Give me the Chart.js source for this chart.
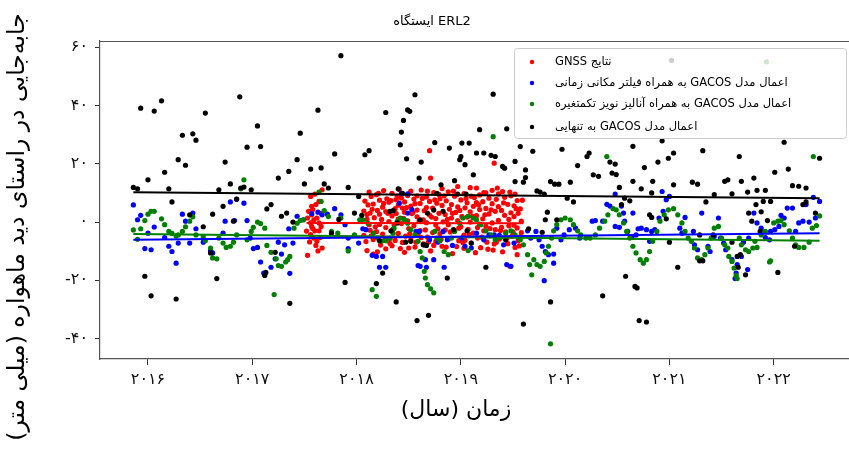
<!DOCTYPE html>
<html>
<head>
<meta charset="utf-8">
<script src="https://cdn.jsdelivr.net/npm/chart.js@4/dist/chart.umd.min.js"></script>
<style>
  html, body { margin: 0; padding: 0; overflow: hidden; background: #fff; }
</style>
</head>
<body>
<canvas id="myChart" width="860" height="455"></canvas>
<script>
// tick labels
let yearTicks = [2016, 2017, 2018, 2019, 2020, 2021, 2022];
let mmTicks = [-40, -20, 0, 20, 40, 60];

let chartTitle = 'ایستگاه ERL2';
let xTitle = 'زمان (سال)';
let yTitle = 'جابه‌جایی در راستای دید ماهواره (میلی متر)';
let labels = [
  'نتایج GNSS',
  'اعمال مدل GACOS به همراه فیلتر مکانی زمانی',
  'اعمال مدل GACOS به همراه آنالیز نویز تکمتغیره',
  'اعمال مدل GACOS به تنهایی'
];

// [year, mm]
let gnssPts = [
  [2017.56,8.8],[2017.57,5.4],[2017.58,4.3],[2017.61,6.0],[2017.64,7.1],[2017.67,11.1],[2017.53,1.4],[2017.56,-0.3],
  [2017.57,-1.5],[2017.59,0.8],[2017.62,1.4],[2017.64,-0.3],[2017.66,-1.5],[2017.52,-3.1],[2017.56,-4.3],[2017.59,-5.5],
  [2017.62,-6.6],[2017.65,-5.3],[2017.67,-8.9],[2017.53,-11.4],[2017.61,-8.0],[2017.64,-3.0],[2017.60,-3.0],[2017.57,2.5],
  [2017.54,3.7],[2017.55,-6.8],[2017.60,9.6],[2017.63,-9.9],[2017.58,-2.2],[2017.66,3.0],
  [2018.07,3.8],[2018.07,-4.6],[2018.08,7.2],[2018.10,0.9],[2018.10,-9.8],[2018.11,5.9],[2018.12,10.3],
  [2018.13,-2.8],[2018.13,3.1],[2018.14,8.8],[2018.16,6.2],[2018.16,-6.0],[2018.17,1.5],[2018.16,-11.0],
  [2018.19,9.4],[2018.19,-3.3],[2018.20,4.0],[2018.22,-0.8],[2018.22,7.5],[2018.23,-7.9],[2018.22,2.7],
  [2018.25,5.1],[2018.25,-4.1],[2018.26,10.8],[2018.28,-1.9],[2018.28,3.6],[2018.29,8.0],[2018.28,-9.2],
  [2018.31,6.8],[2018.31,0.2],[2018.32,-5.6],[2018.34,9.9],[2018.34,2.1],[2018.35,-2.4],[2018.34,-8.1],
  [2018.37,4.6],[2018.37,-6.3],[2018.38,7.7],[2018.40,1.0],[2018.40,-3.9],[2018.41,11.2],[2018.40,5.8],
  [2018.43,8.3],[2018.43,-0.5],[2018.44,-7.0],[2018.46,3.4],[2018.46,6.9],[2018.47,-4.8],[2018.46,-10.4],
  [2018.49,0.4],[2018.49,9.1],[2018.50,-2.2],[2018.52,5.5],[2018.52,-6.1],[2018.53,2.9],[2018.52,10.6],
  [2018.55,-1.3],[2018.55,7.9],[2018.56,-8.6],[2018.58,4.1],[2018.58,1.8],[2018.59,-4.3],[2018.58,9.0],
  [2018.61,6.4],[2018.61,-2.9],[2018.62,11.0],[2018.64,0.8],[2018.64,-7.5],[2018.65,3.9],
  [2018.67,8.6],[2018.67,-0.2],[2018.68,-5.2],[2018.67,5.0],[2018.70,24.5],[2018.70,2.4],[2018.71,-9.9],[2018.70,7.1],
  [2018.71,15.1],[2018.73,-3.6],[2018.73,4.8],[2018.74,10.1],[2018.76,1.2],[2018.76,-6.6],[2018.77,6.5],[2018.76,-1.0],
  [2018.79,9.5],[2018.79,3.0],[2018.80,-4.0],[2018.82,-8.3],[2018.82,5.7],[2018.83,0.1],[2018.82,11.5],
  [2018.85,2.6],[2018.85,-2.7],[2018.86,7.3],[2018.88,10.4],[2018.88,-5.9],[2018.89,4.4],[2018.88,-0.9],
  [2018.91,6.0],[2018.91,1.4],[2018.92,-10.8],[2018.94,-3.1],[2018.94,8.9],[2018.95,3.3],
  [2018.97,0.5],[2018.97,12.2],[2018.98,-6.4],[2018.97,5.2],[2019.00,7.6],[2019.00,-1.6],[2019.01,2.0],
  [2019.03,-4.5],[2019.03,9.8],[2019.04,4.9],[2019.03,-9.0],[2019.06,1.7],[2019.06,6.6],[2019.07,-2.5],
  [2019.09,11.8],[2019.09,3.5],[2019.10,-7.2],[2019.09,0.0],[2019.12,5.4],[2019.12,-3.8],[2019.13,8.4],
  [2019.15,11.7],[2019.15,2.2],[2019.16,-5.5],[2019.15,6.7],[2019.18,-0.7],[2019.18,9.3],[2019.19,-8.8],[2019.18,4.3],
  [2019.21,7.0],[2019.21,1.1],[2019.22,-3.0],[2019.24,10.0],[2019.24,4.7],[2019.25,-6.9],[2019.24,-1.4],
  [2019.27,2.8],[2019.27,8.2],[2019.28,-4.7],[2019.30,6.3],[2019.30,-0.3],[2019.31,-9.6],[2019.30,10.9],
  [2019.32,20.2],[2019.33,3.7],[2019.33,-2.6],[2019.34,7.8],[2019.36,0.6],[2019.36,9.7],[2019.37,-5.8],[2019.36,5.3],
  [2019.39,4.0],[2019.39,-1.8],[2019.40,-10.2],[2019.42,8.5],[2019.42,2.3],[2019.43,-3.4],
  [2019.45,6.1],[2019.45,-7.4],[2019.46,0.9],[2019.47,-15.2],[2019.48,3.2],[2019.48,9.0],[2019.49,-4.9],
  [2019.51,-1.1],[2019.51,5.6],[2019.52,-8.7],[2019.51,1.9],[2019.54,7.4],[2019.54,-2.0],[2019.54,-11.2],[2019.55,3.0],
  [2019.57,4.5],[2019.57,-5.0],[2019.58,0.3],
  [2018.09,-6.7],[2018.12,-0.9],[2018.15,4.4],[2018.18,-1.6],[2018.21,9.9],[2018.24,0.9],[2018.27,-6.2],[2018.30,3.0],
  [2018.33,7.4],[2018.36,-0.9],[2018.39,8.9],[2018.42,-9.1],[2018.45,1.3],[2018.48,5.0],[2018.51,-4.0],[2018.54,3.3],
  [2018.57,-6.9],[2018.60,0.3],[2018.63,8.1],[2018.66,-2.7],[2018.69,-6.8],[2018.72,1.7],[2018.75,7.6],[2018.78,-2.3],
  [2018.81,-6.0],[2018.84,9.0],[2018.87,0.9],[2018.90,-3.4],[2018.93,10.6],[2018.96,-8.4],[2018.99,4.0],[2019.02,-7.1],
  [2019.05,8.1],[2019.08,-4.2],[2019.11,2.0],[2019.14,-10.5],[2019.17,5.9],[2019.20,-5.2],[2019.23,2.5],[2019.26,-9.3],
  [2019.29,4.2],[2019.32,-7.5],[2019.35,11.7],[2019.38,-2.9],[2019.41,6.6],[2019.44,-5.6],[2019.47,10.3],[2019.50,-3.4],
  [2019.53,4.6],[2019.56,-8.2],[2019.59,7.5],[2019.58,-3.6],
  [2018.10,2.6],[2018.14,-4.8],[2018.20,-10.2],[2018.26,6.4],[2018.32,-7.3],[2018.38,2.9],[2018.44,4.8],[2018.50,-8.9],
  [2018.56,6.3],[2018.62,-5.3],[2018.68,10.6],[2018.74,-8.0],[2018.80,8.0],[2018.86,-8.6],[2018.92,3.0],[2018.98,-2.1],
  [2019.04,-6.2],[2019.10,8.9],[2019.16,-1.9],[2019.22,10.1],[2019.28,-2.2],[2019.34,-6.9],[2019.40,10.5],[2019.46,-1.3],
  [2019.52,9.6],[2019.55,-6.4]
];

let filterPts = [
  [2015.86,5.9],[2015.90,0.8],[2015.93,2.3],[2016.00,-3.8],[2016.06,-1.7],[2015.97,-9.1],[2016.03,-9.5],[2016.16,-5.3],
  [2016.20,-8.3],[2016.23,-10.1],[2016.27,-14.1],[2016.29,-7.2],[2016.33,2.7],[2016.36,0.3],[2016.40,-7.2],[2016.43,3.1],
  [2016.46,-2.3],[2016.53,-6.9],[2016.60,-9.8],[2016.62,-10.6],[2016.72,-3.8],[2016.74,0.3],
  [2016.79,6.9],[2016.83,0.5],[2016.85,7.8],[2016.92,6.5],[2016.95,0.5],[2016.98,-5.5],[2017.01,-9.1],[2017.05,-8.7],
  [2017.08,-13.7],[2017.11,-17.5],[2017.18,-15.5],[2017.22,-12.6],[2017.28,-11.0],[2017.25,-6.9],[2017.31,-7.8],
  [2017.36,-17.6],[2017.39,-7.2],[2017.35,-2.3],[2017.43,2.0],[2017.49,0.8],[2017.57,2.9],[2017.63,3.4],[2017.67,2.5],
  [2017.72,2.7],[2017.79,4.6],[2017.85,2.5],[2017.89,-0.9],[2017.92,-9.1],
  [2017.92,-5.5],[2018.02,-7.2],[2018.06,-2.3],[2018.09,-2.6],[2018.15,-11.4],[2018.19,-11.8],[2018.25,-11.8],
  [2018.22,-15.5],[2018.28,-15.5],[2018.41,6.5],[2018.43,9.9],[2018.49,9.7],[2018.49,3.1],[2018.53,4.3],[2018.57,-3.2],
  [2018.60,-3.2],[2018.59,-14.9],[2018.61,-15.2],[2018.67,-15.5],[2018.66,-12.9],[2018.74,-12.9],[2018.65,-7.8],
  [2018.70,-6.1],[2018.78,-6.9],[2018.83,-3.2],[2018.84,-15.5],[2018.87,-6.1],[2018.92,-8.0],[2019.01,-5.5],
  [2019.04,-8.3],[2019.10,-8.9],[2019.15,-3.8],
  [2019.22,-6.1],[2019.27,-4.4],[2019.32,-4.4],[2019.37,-4.6],[2019.41,-7.8],[2019.44,-14.6],[2019.48,-15.2],
  [2019.51,-7.2],[2019.56,-5.5],[2019.64,-3.0],[2019.67,-5.5],[2019.72,-3.2],[2019.75,-6.1],[2019.78,-8.3],
  [2019.81,-10.1],[2019.84,-11.2],[2019.89,-11.0],[2019.80,-20.1],[2019.89,-14.1],[2019.92,-2.1],[2019.96,-6.1],
  [2019.99,-4.4],[2020.04,-2.6],[2020.10,-2.1],[2020.14,-5.5],[2020.26,0.3],[2020.29,0.5],
  [2020.48,9.6],[2020.40,6.1],[2020.43,5.5],[2020.54,5.5],[2020.36,0.3],[2020.48,-1.5],[2020.52,-1.8],[2020.57,0.3],
  [2020.65,3.1],[2020.56,3.1],[2020.60,-3.2],[2020.64,-5.3],[2020.68,-4.4],[2020.70,-2.3],[2020.73,-2.1],[2020.78,-2.6],
  [2020.83,-3.2],[2020.81,-6.6],[2020.86,-2.6],[2020.90,1.4],[2020.94,3.7],[2020.93,10.5],[2020.97,7.7],[2021.00,8.8],
  [2021.10,-2.1],[2021.12,-3.8],[2021.15,1.6],[2021.23,-3.2],[2021.24,-7.8],[2021.27,-9.5],[2021.37,-8.3],[2021.39,-10.1],
  [2021.31,3.1],[2021.43,-4.9],[2021.47,1.4],[2021.49,-5.5],[2021.52,-7.2],
  [2021.54,-9.5],[2021.60,-12.9],[2021.65,-14.6],[2021.64,-17.5],[2021.63,-19.4],[2021.69,-11.8],[2021.75,-16.3],
  [2021.71,-6.9],[2021.76,-5.5],[2021.81,3.1],[2021.84,-0.3],[2021.88,-2.1],[2021.92,-5.3],[2021.96,-6.1],[2021.97,-3.2],
  [2022.01,-2.6],[2022.05,-1.5],[2022.07,2.3],[2022.10,1.4],[2022.13,4.8],[2022.18,4.8],[2022.21,-3.2],[2022.24,-0.3],
  [2022.28,0.3],[2022.31,6.0],[2022.34,0.0],[2022.38,8.5],[2022.40,1.4],[2022.44,7.1]
];

let noisePts = [
  [2015.86,-2.7],[2015.90,-5.9],[2015.93,-2.3],[2015.97,0.5],[2016.00,2.7],[2016.03,3.7],[2016.06,3.7],[2016.13,1.1],
  [2016.16,-0.9],[2016.20,-3.2],[2016.23,-3.9],[2016.27,-4.8],[2016.29,-4.4],[2016.33,-3.2],[2016.36,-1.6],[2016.40,0.3],
  [2016.43,1.8],[2016.46,-4.4],[2016.53,-5.0],[2016.55,-6.4],[2016.60,-8.9],[2016.62,-12.3],[2016.66,-12.6],
  [2016.68,-5.5],[2016.72,-7.2],
  [2016.75,-8.7],[2016.79,-8.3],[2016.82,-6.9],[2016.85,-4.4],[2016.95,-6.1],[2016.99,-3.2],[2017.01,-1.8],[2017.05,0.0],
  [2017.08,-0.5],[2017.12,-2.1],[2017.14,-8.0],[2017.18,-10.4],[2017.23,-12.6],[2017.25,-14.9],[2017.28,-15.2],
  [2017.32,-13.7],[2017.34,-12.9],[2017.36,-11.8],[2017.21,-24.9],[2017.40,-2.1],[2017.43,-0.4],[2017.46,0.5],
  [2017.49,0.8],[2016.89,11.4],[2016.92,14.5],[2017.64,10.3],[2017.66,7.1],[2017.69,3.9],[2017.73,1.9],[2017.76,-3.2],
  [2017.82,-3.8],[2017.85,1.4],[2017.92,-9.9],
  [2017.98,-4.4],[2018.03,0.8],[2018.06,0.8],[2018.11,-0.4],[2018.16,-3.8],[2018.20,-5.5],[2018.24,-6.6],[2018.28,-6.4],
  [2018.32,-5.5],[2018.35,-3.8],[2018.36,-2.1],[2018.39,0.2],[2018.42,1.4],[2018.46,0.8],[2018.49,-0.4],[2018.52,-2.6],
  [2018.56,-4.4],[2018.59,-6.6],[2018.61,-10.1],[2018.63,-12.3],[2018.65,-16.9],[2018.66,-19.2],[2018.68,-21.5],
  [2018.71,-22.9],[2018.74,-24.3],[2018.75,-3.2],[2018.77,-5.5],[2018.80,-6.4],[2018.84,-10.1],[2018.88,-11.2],
  [2018.91,-5.5],[2018.94,-3.2],[2018.99,-0.4],[2019.02,1.4],[2019.07,2.0],[2019.12,1.4],[2019.15,0.8],[2018.15,-23.2],
  [2018.19,-25.5],[2019.07,-9.8],
  [2019.19,-0.9],[2019.24,-3.0],[2019.29,-4.4],[2019.33,-6.1],[2019.38,-5.3],[2019.43,-3.8],[2019.48,-3.0],[2019.52,-4.4],
  [2019.57,-6.1],[2019.60,-7.8],[2019.64,-11.2],[2019.66,-14.6],[2019.68,-18.1],[2019.70,-12.9],[2019.73,-14.6],
  [2019.76,-15.2],[2019.80,-13.5],[2019.82,-10.6],[2019.84,-8.3],[2019.87,-5.5],[2019.89,-3.0],[2019.92,-0.9],
  [2019.96,0.8],[2020.00,1.4],[2020.05,0.8],[2020.08,-0.9],[2020.12,-3.0],[2020.15,-4.4],[2020.20,-5.5],[2020.24,-5.5],
  [2020.29,-4.4],[2020.33,-2.1],[2019.31,29.3],[2019.86,-41.8],
  [2020.40,22.5],[2020.38,0.3],[2020.41,2.5],[2020.46,4.6],[2020.49,4.2],[2020.52,2.5],[2020.56,-0.3],[2020.59,-3.2],
  [2020.62,-5.5],[2020.65,-8.3],[2020.68,-10.6],[2020.72,-12.9],[2020.75,-14.1],[2020.78,-12.9],[2020.81,-10.1],
  [2020.84,-6.6],[2020.88,-3.2],[2020.91,0.3],[2020.95,2.5],[2020.99,4.2],[2021.04,4.6],[2021.08,2.5],[2021.12,-0.3],
  [2021.15,-3.2],[2021.18,-5.5],[2021.21,-6.6],[2021.24,-8.9],[2021.27,-12.3],[2021.31,-12.9],[2021.34,-11.2],
  [2021.37,-8.9],[2021.40,-5.5],[2021.43,-2.1],[2021.47,-1.5],[2021.50,-5.5],[2021.53,-7.8],[2021.56,-8.9],
  [2021.57,-11.8],[2021.60,-13.5],[2021.62,-15.8],[2021.64,-18.3],[2021.65,-19.4],[2021.67,-5.5],[2021.69,-7.8],
  [2021.73,-9.5],[2021.76,-10.1],[2021.80,-8.9],[2021.82,-6.6],[2021.84,-8.7],[2021.88,-4.4],[2021.92,-3.2],
  [2021.96,-13.7],[2021.97,-13.3],[2022.00,-0.3],[2022.04,0.3],[2022.07,0.5],[2022.10,-0.9],[2022.15,-3.0],[2022.18,-5.5],
  [2022.21,-7.8],[2022.24,-8.7],[2022.29,-8.7],[2022.34,-6.9],[2022.37,-2.1],[2022.41,-1.2],[2022.38,22.5],[2022.44,2.1],
  [2021.93,55.0]
];

let gacosPts = [
  [2015.86,11.9],[2015.90,11.4],[2016.00,14.5],[2016.16,17.1],[2016.20,11.4],[2016.23,6.9],[2016.29,21.4],[2016.36,19.5],
  [2015.93,39.1],[2016.06,38.1],[2016.13,41.6],[2016.33,29.8],[2016.43,30.3],[2016.46,28.1],[2016.55,37.4],[2016.40,2.5],
  [2016.62,2.7],[2016.53,-1.6],[2015.97,-18.6],[2016.03,-25.3],[2016.27,-26.4],[2016.60,-10.6],[2016.66,-19.4],
  [2016.72,5.4],[2016.74,20.6],[2016.68,11.1],
  [2016.79,13.1],[2016.89,11.7],[2016.92,12.0],[2016.99,11.1],[2016.85,7.9],[2016.82,0.3],[2016.88,43.0],[2017.05,33.0],
  [2016.95,25.7],[2017.08,25.9],[2017.25,15.1],[2017.35,17.4],[2017.46,30.5],[2017.43,21.4],[2017.50,13.1],[2017.56,18.2],
  [2017.66,18.6],[2017.63,38.4],[2017.79,23.4],[2017.69,13.1],[2017.73,11.7],[2017.85,57.1],[2017.14,4.5],[2017.18,6.0],
  [2017.28,2.0],[2017.33,3.1],[2017.39,0.0],[2017.22,-10.4],[2017.12,-18.3],[2017.13,-17.3],[2017.36,-27.9],
  [2017.76,-3.8],[2017.83,0.9],[2017.89,-20.7],
  [2017.92,11.9],[2018.05,2.3],[2018.02,8.8],[2017.98,3.1],[2018.08,23.1],[2018.12,24.5],[2018.28,37.6],[2018.42,26.5],
  [2018.43,30.9],[2018.45,34.9],[2018.49,38.5],[2018.51,38.0],[2018.48,21.7],[2018.56,43.7],[2018.62,20.6],[2018.60,15.1],
  [2018.75,27.3],[2018.89,25.4],[2019.01,27.1],[2019.08,27.1],[2018.99,21.4],[2019.00,22.5],[2019.04,19.7],[2019.12,16.2],
  [2019.15,23.7],[2018.81,12.8],[2018.94,14.2],[2018.97,9.6],[2019.05,9.6],[2018.77,9.9],[2018.40,11.4],[2018.44,9.9],
  [2018.39,-0.3],[2018.32,3.7],[2018.35,3.9],[2018.33,-3.0],[2018.22,-6.4],[2018.47,-6.9],[2018.52,-6.6],[2018.64,-7.8],
  [2018.67,-8.0],[2018.74,4.1],[2018.68,3.1],[2018.61,0.8],[2018.83,3.7],[2018.25,-17.5],[2018.19,-21.1],[2018.38,-27.4],
  [2018.58,-33.8],[2018.69,-32.0],[2018.87,-19.2],[2019.10,-7.2],[2019.06,-3.0],[2018.93,-2.6],
  [2019.31,43.9],[2019.18,31.7],[2019.44,32.0],[2019.22,23.7],[2019.29,22.9],[2019.33,22.5],[2019.40,19.1],[2019.42,18.5],
  [2019.52,20.8],[2019.69,24.3],[2019.57,25.9],[2019.62,17.9],[2019.62,15.3],[2019.60,13.7],[2019.52,13.9],[2019.86,13.9],
  [2019.90,13.0],[2019.94,13.0],[2020.05,13.7],[2019.97,25.0],[2020.12,19.4],[2020.21,22.5],[2020.23,23.7],[2020.27,16.2],
  [2020.32,15.7],[2019.76,10.3],[2019.80,9.6],[2019.73,10.7],[2020.02,8.2],[2020.08,6.9],[2019.83,3.4],[2019.81,0.8],
  [2019.78,-3.5],[2019.65,-2.3],[2019.92,0.8],[2019.43,-6.1],[2019.24,-15.5],[2019.60,-35.0],[2019.86,-27.4],
  [2020.65,26.0],[2020.43,20.6],[2020.48,19.9],[2020.45,16.8],[2020.49,16.3],[2020.76,18.7],[2020.65,14.0],[2020.84,14.0],
  [2020.89,20.6],[2020.99,21.9],[2021.04,23.7],[2020.93,27.9],[2021.04,12.8],[2021.22,13.7],[2021.27,13.0],[2021.32,24.5],
  [2021.53,14.0],[2021.56,14.5],[2021.43,9.4],[2021.35,6.9],[2020.57,8.2],[2020.62,7.3],[2020.54,6.0],[2020.52,11.9],
  [2020.73,11.4],[2020.83,10.0],[2020.81,2.5],[2020.83,1.6],[2021.00,-6.9],[2021.08,-15.5],[2021.29,-4.4],[2021.32,-13.3],
  [2021.29,-13.3],[2021.42,-4.4],[2020.58,-18.6],[2020.36,-25.3],[2020.67,-22.1],[2020.69,-22.6],[2020.71,-33.8],
  [2020.78,-34.3],[2020.97,1.1],[2021.02,55.5],
  [2021.67,22.5],[2022.10,27.4],[2022.01,17.1],[2022.14,18.2],[2021.60,9.7],[2021.69,14.0],[2021.75,10.3],[2021.81,15.1],
  [2021.84,10.9],[2021.92,10.9],[2021.83,6.0],[2021.90,7.1],[2021.97,7.1],[2022.18,12.5],[2022.24,12.3],[2022.31,11.7],
  [2022.28,6.0],[2022.31,6.9],[2022.40,3.1],[2022.44,21.9],[2021.76,3.1],[2021.79,0.3],[2021.88,3.5],[2021.94,0.5],
  [2021.87,-3.2],[2021.60,-6.9],[2021.68,-11.2],[2021.66,-15.5],[2021.73,-18.1],[2022.04,-17.3],[2022.20,-8.3],[2021.65,-11.8]
];

// fitted trend lines, end points
let gnssTrend = [[2017.52,-0.3],[2019.60,-0.4]];
let filterTrend = [[2015.86,-6.1],[2022.44,-3.8]];
let noiseTrend = [[2015.86,-4.1],[2022.44,-6.4]];
let gacosTrend = [[2015.86,10.2],[2022.44,8.2]];

let colors = ['#ff0000', '#0000ff', '#008000', '#000000'];

function toFa(v) {
  return String(v).replace(/\d/g, d => '۰۱۲۳۴۵۶۷۸۹'[d]);
}
function xy(arr) {
  return arr.map(p => ({x: p[0], y: p[1]}));
}
function pointSet(arr, color) {
  return {data: xy(arr), backgroundColor: color, borderColor: color, pointRadius: 2.6, pointBorderWidth: 0, showLine: false};
}
function lineSet(arr, color) {
  return {data: xy(arr), borderColor: color, borderWidth: 2, pointRadius: 0, showLine: true, fill: false};
}

const fontFa = "'DejaVu Sans', sans-serif";

const decorPlugin = {
  id: 'decor',
  afterDatasetsDraw(chart) {
    let ctx = chart.ctx;
    let a = chart.chartArea;
    ctx.save();
    // top frame line
    ctx.strokeStyle = '#555';
    ctx.lineWidth = 1.2;
    ctx.beginPath();
    ctx.moveTo(a.left, a.top + 0.5);
    ctx.lineTo(a.right, a.top + 0.5);
    ctx.stroke();

    // legend box
    ctx.fillStyle = 'rgba(255,255,255,0.8)';
    ctx.strokeStyle = '#cccccc';
    ctx.lineWidth = 1;
    ctx.beginPath();
    ctx.roundRect(514.5, 48.5, 332, 90, 3);
    ctx.fill();
    ctx.stroke();
    let rows = [62, 83, 104, 127];
    ctx.font = '11.5px ' + fontFa;
    ctx.textBaseline = 'middle';
    ctx.textAlign = 'left';
    ctx.direction = 'rtl';
    for (let i = 0; i < labels.length; i++) {
      ctx.fillStyle = colors[i];
      ctx.beginPath();
      ctx.arc(532, rows[i], 2.2, 0, Math.PI * 2);
      ctx.fill();
      ctx.fillStyle = '#000';
      ctx.fillText(labels[i], 555, rows[i]);
    }

    // titles
    ctx.fillStyle = '#000';
    ctx.textAlign = 'center';
    ctx.direction = 'ltr';
    ctx.font = '13px ' + fontFa;
    ctx.fillText(chartTitle, 432, 22);

    ctx.direction = 'rtl';
    ctx.font = '22px ' + fontFa;
    ctx.fillText(xTitle, 456, 410);

    ctx.translate(18, 227);
    ctx.rotate(-Math.PI / 2);
    ctx.font = '23.5px ' + fontFa;
    ctx.fillText(yTitle, 0, 0);
    ctx.restore();
  }
};

let ctx = document.getElementById('myChart').getContext('2d');
let chart = new Chart(ctx, {
  type: 'scatter',
  data: {
    datasets: [
      lineSet(gacosTrend, colors[3]),
      lineSet(filterTrend, colors[1]),
      lineSet(noiseTrend, colors[2]),
      lineSet(gnssTrend, colors[0]),
      pointSet(gacosPts, colors[3]),
      pointSet(noisePts, colors[2]),
      pointSet(filterPts, colors[1]),
      pointSet(gnssPts, colors[0])
    ]
  },
  options: {
    responsive: false,
    animation: false,
    devicePixelRatio: 1,
    layout: {padding: {top: 41, right: 6, left: 0, bottom: 0}},
    plugins: {legend: {display: false}, tooltip: {enabled: false}},
    scales: {
      x: {
        type: 'linear',
        min: 2015.54,
        max: 2022.77,
        afterBuildTicks: s => { s.ticks = yearTicks.map(v => ({value: v})); },
        afterFit: s => { s.height = 96; },
        grid: {drawOnChartArea: false, tickLength: 6, color: '#333'},
        border: {color: '#555', width: 1.2},
        ticks: {callback: v => toFa(v), font: {size: 16, family: fontFa}, color: '#111', padding: 5, maxRotation: 0}
      },
      y: {
        min: -47.0,
        max: 62.15,
        afterBuildTicks: s => { s.ticks = mmTicks.map(v => ({value: v})); },
        afterFit: s => { s.width = 100; },
        grid: {drawOnChartArea: false, tickLength: 5, color: '#333'},
        border: {color: '#555', width: 1.2},
        ticks: {callback: v => toFa(v), font: {size: 16, family: fontFa}, color: '#111', padding: 7}
      }
    }
  },
  plugins: [decorPlugin]
});
</script>
</body>
</html>
